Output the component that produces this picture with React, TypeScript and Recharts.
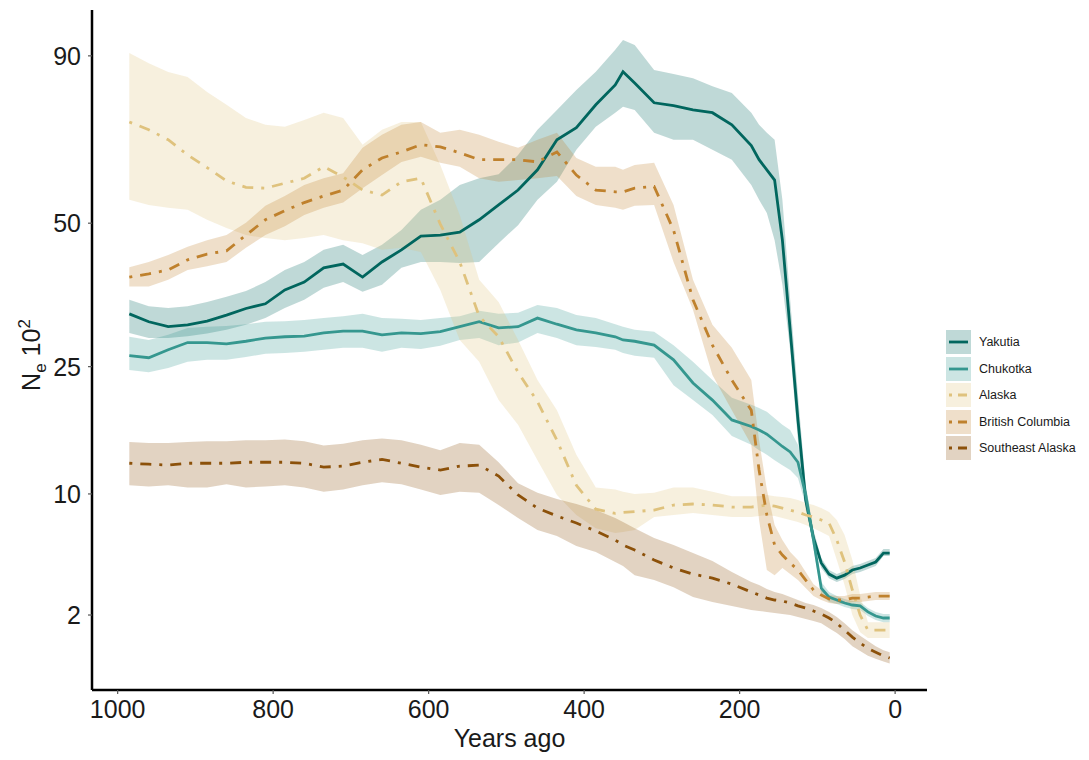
import React from "react";
import { ComposedChart, Area, Line, XAxis, YAxis } from "recharts";

// years before present (x axis runs backwards)
const years = [
  985, 960, 935, 910, 885, 860, 835, 810, 785, 760,
  735, 710, 685, 660, 635, 610, 585, 560, 535, 510,
  485, 460, 435, 410, 385, 360, 350, 335, 310, 285,
  260, 235, 210, 185, 175, 165, 155, 145, 135, 125,
  115, 105, 95, 85, 75, 65, 55, 45, 35, 25,
  15, 7,
];

// Ne x 10^2, median and ribbon bounds
const yakutia = [
  33.2, 31.9, 31.1, 31.4, 32.0, 33.0, 34.1, 34.9, 37.3, 38.7,
  41.3, 42.0, 39.6, 42.4, 44.7, 47.4, 47.6, 48.2, 50.7, 53.8,
  57.0, 61.5, 68.5, 71.4, 77.1, 82.2, 85.7, 82.7, 77.6, 76.9,
  75.8, 75.1, 72.1, 67.1, 63.8, 61.5, 59.2, 46.6, 30.6, 17.9,
  9.45, 6.38, 4.69, 4.02, 3.79, 3.96, 4.26, 4.38, 4.56, 4.75,
  5.33, 5.33,
];
const yakutiaLow = [
  30.1, 29.3, 29.3, 29.6, 30.0, 30.6, 31.4, 32.5, 34.2, 35.6,
  37.7, 38.7, 37.0, 38.2, 41.3, 42.4, 42.4, 42.2, 42.4, 46.0,
  49.6, 54.9, 58.8, 66.1, 71.6, 75.1, 76.6, 75.8, 70.2, 68.5,
  68.5, 66.1, 63.8, 58.1, 54.9, 52.1, 46.6, 38.2, 27.5, 15.5,
  8.58, 6.02, 4.38, 3.79, 3.57, 3.74, 4.02, 4.14, 4.32, 4.5,
  5.14, 5.14,
];
const yakutiaHigh = [
  35.6, 34.5, 34.2, 34.5, 35.2, 36.1, 37.1, 38.7, 40.9, 42.4,
  44.7, 45.7, 43.7, 45.7, 48.6, 52.8, 54.9, 58.1, 59.6, 60.5,
  64.9, 70.9, 75.8, 80.9, 85.7, 91.7, 94.4, 93.0, 86.2, 85.1,
  84.0, 81.9, 80.1, 75.1, 72.1, 70.2, 68.5, 54.9, 35.6, 21.1,
  10.8, 6.97, 5.01, 4.26, 4.02, 4.2, 4.5, 4.62, 4.81, 5.01,
  5.6, 5.6,
];

const chukotka = [
  26.6, 26.3, 27.5, 28.6, 28.6, 28.4, 28.8, 29.3, 29.5, 29.6,
  30.1, 30.4, 30.4, 29.8, 30.1, 30.0, 30.3, 31.1, 31.9, 30.9,
  31.1, 32.5, 31.5, 30.6, 30.1, 29.5, 29.0, 28.8, 28.2, 26.0,
  22.7, 20.4, 17.9, 17.1, 16.7, 16.2, 15.5, 14.8, 14.2, 13.1,
  9.9, 6.23, 3.25, 2.8, 2.66, 2.52, 2.43, 2.39, 2.13, 1.96,
  1.88, 1.88,
];
const chukotkaLow = [
  24.5, 24.2, 24.8, 25.7, 26.0, 26.0, 26.4, 26.9, 27.0, 27.2,
  27.5, 27.8, 27.8, 27.2, 27.8, 27.6, 28.1, 29.0, 29.3, 28.2,
  28.6, 30.1, 29.3, 28.2, 27.9, 27.5, 27.0, 26.6, 26.3, 22.4,
  20.4, 18.5, 16.0, 15.0, 14.4, 13.9, 13.3, 12.8, 12.3, 11.5,
  9.0, 5.67, 2.95, 2.57, 2.48, 2.34, 2.25, 2.21, 1.96, 1.8,
  1.72, 1.72,
];
const chukotkaHigh = [
  29.5, 29.0, 29.8, 30.9, 31.1, 31.2, 31.5, 31.9, 32.0, 32.2,
  32.5, 32.8, 33.2, 32.5, 32.4, 32.2, 32.5, 32.8, 33.7, 33.2,
  33.4, 34.7, 34.2, 33.0, 32.5, 31.5, 31.1, 30.6, 30.3, 28.2,
  25.7, 23.1, 20.7, 19.8, 19.4, 18.9, 18.1, 17.3, 16.7, 15.0,
  10.8, 6.82, 3.57, 3.05, 2.85, 2.71, 2.61, 2.57, 2.3, 2.13,
  2.04, 2.04,
];

const alaska = [
  72.8, 70.9, 68.5, 64.9, 62.0, 59.0, 57.6, 57.4, 58.5, 59.6,
  62.2, 59.9, 57.0, 55.9, 58.8, 59.6, 49.8, 42.4, 32.8, 29.5,
  24.2, 20.2, 15.5, 10.8, 8.66, 8.3, 8.38, 8.45, 8.58, 9.01,
  9.1, 9.01, 8.84, 8.84, 8.92, 9.01, 8.92, 8.75, 8.58, 8.41,
  8.17, 8.0, 7.76, 7.52, 6.23, 4.75, 3.15, 2.0, 1.43, 1.43,
  1.43, 1.43,
];
const alaskaLow = [
  54.9, 53.8, 53.2, 52.8, 50.7, 49.0, 47.6, 47.0, 46.6, 47.0,
  47.6, 46.6, 46.0, 44.7, 45.1, 44.3, 37.3, 29.0, 25.7, 20.4,
  17.3, 13.3, 9.9, 8.17, 7.12, 6.75, 6.82, 6.97, 8.0, 8.17,
  8.33, 8.17, 8.0, 8.0, 8.09, 8.17, 8.09, 7.93, 7.76, 7.6,
  7.36, 7.12, 6.82, 6.53, 4.88, 3.41, 2.0, 1.36, 1.17, 1.17,
  1.17, 1.17,
];
const alaskaHigh = [
  90.8, 88.0, 85.6, 84.3, 80.4, 77.1, 73.8, 72.1, 71.6, 73.3,
  75.1, 73.8, 67.3, 70.9, 72.8, 72.8, 62.6, 51.7, 39.1, 35.2,
  29.0, 23.1, 19.1, 13.9, 10.6, 10.4, 10.2, 10.0, 10.1, 10.6,
  10.6, 10.2, 9.8, 9.8, 9.8, 9.9, 9.8, 9.72, 9.63, 9.45,
  9.19, 9.01, 8.75, 8.41, 7.76, 6.6, 4.88, 2.9, 1.72, 1.72,
  1.72, 1.72,
];

const britishColumbia = [
  39.6, 40.2, 40.9, 42.8, 43.9, 44.5, 47.6, 50.7, 52.6, 54.3,
  55.7, 57.0, 61.5, 64.2, 65.6, 67.3, 66.8, 65.4, 63.8, 63.8,
  63.8, 63.3, 65.6, 60.3, 57.0, 56.6, 56.6, 57.4, 57.8, 48.6,
  35.6, 28.2, 23.1, 19.1, 12.3, 8.17, 5.88, 5.2, 4.69, 4.26,
  3.68, 3.15, 2.9, 2.71, 2.66, 2.66, 2.75, 2.75, 2.8, 2.85,
  2.85, 2.85,
];
const britishColumbiaLow = [
  37.9, 37.9, 39.1, 40.9, 41.6, 42.4, 45.1, 47.6, 49.4, 51.7,
  53.2, 54.3, 57.4, 60.3, 63.3, 64.5, 63.1, 62.2, 59.6, 58.8,
  59.2, 59.6, 60.1, 55.7, 53.8, 53.2, 52.8, 53.6, 53.8, 42.4,
  33.9, 23.8, 19.1, 15.0, 7.76, 4.26, 3.96, 4.38, 4.02, 3.68,
  3.25, 2.85, 2.66, 2.52, 2.48, 2.48, 2.57, 2.57, 2.61, 2.66,
  2.66, 2.66,
];
const britishColumbiaHigh = [
  41.4, 42.4, 43.7, 45.3, 46.6, 47.6, 50.1, 53.6, 55.7, 58.1,
  59.6, 60.7, 66.6, 69.7, 72.1, 72.8, 70.2, 70.9, 69.7, 68.0,
  66.6, 68.5, 70.2, 64.2, 62.2, 62.2, 61.5, 62.6, 63.1, 53.8,
  39.1, 31.4, 27.8, 23.1, 15.5, 10.4, 7.36, 6.23, 5.4, 4.88,
  4.14, 3.46, 3.15, 2.9, 2.85, 2.85, 2.95, 2.95, 3.0, 3.05,
  3.05, 3.05,
];

const southeastAlaska = [
  13.0, 12.9, 12.8, 13.0, 13.0, 13.0, 13.1, 13.1, 13.1, 13.0,
  12.6, 12.7, 13.1, 13.4, 13.0, 12.6, 12.3, 12.7, 12.8, 11.7,
  9.9, 8.75, 8.09, 7.52, 6.9, 6.23, 5.88, 5.53, 4.88, 4.38,
  4.02, 3.79, 3.46, 3.05, 2.9, 2.75, 2.66, 2.61, 2.52, 2.39,
  2.3, 2.17, 2.04, 1.88, 1.68, 1.43, 1.2, 1.02, 0.87, 0.77,
  0.68, 0.63,
];
const southeastAlaskaLow = [
  10.8, 10.7, 10.8, 10.6, 10.6, 10.9, 10.6, 10.7, 10.8, 10.6,
  10.2, 10.4, 10.8, 11.1, 10.9, 10.4, 9.9, 10.2, 10.1, 9.01,
  7.93, 6.97, 6.53, 5.81, 5.4, 4.75, 4.5, 3.96, 3.68, 3.3,
  2.8, 2.57, 2.39, 2.21, 2.17, 2.13, 2.08, 2.04, 2.0, 1.92,
  1.84, 1.76, 1.68, 1.5, 1.33, 1.14, 0.93, 0.8, 0.68, 0.61,
  0.55, 0.51,
];
const southeastAlaskaHigh = [
  15.3, 15.2, 15.2, 15.3, 15.4, 15.4, 15.5, 15.5, 15.6, 15.4,
  14.9, 15.1, 15.5, 15.7, 15.5, 15.0, 14.4, 15.2, 15.0, 13.1,
  11.0, 10.1, 9.54, 9.1, 8.58, 7.93, 7.6, 7.12, 6.38, 5.88,
  5.33, 4.81, 4.14, 3.57, 3.41, 3.2, 3.05, 2.95, 2.8, 2.66,
  2.52, 2.43, 2.3, 2.13, 1.92, 1.68, 1.43, 1.24, 1.08, 0.93,
  0.82, 0.77,
];

const xTicks = [1000, 800, 600, 400, 200, 0];
const yTicks = [2, 10, 25, 50, 90];

const series = [
  { key: "yak", name: "Yakutia", color: "#01665e", mid: yakutia, low: yakutiaLow, high: yakutiaHigh, dash: undefined },
  { key: "chu", name: "Chukotka", color: "#35978f", mid: chukotka, low: chukotkaLow, high: chukotkaHigh, dash: undefined },
  { key: "ala", name: "Alaska", color: "#dfc27d", mid: alaska, low: alaskaLow, high: alaskaHigh, dash: "3 8 11 8" },
  { key: "bc", name: "British Columbia", color: "#bf812d", mid: britishColumbia, low: britishColumbiaLow, high: britishColumbiaHigh, dash: "3 8 11 8" },
  { key: "sea", name: "Southeast Alaska", color: "#8c510a", mid: southeastAlaska, low: southeastAlaskaLow, high: southeastAlaskaHigh, dash: "3 8 11 8" },
];

const data = years.map((year, i) => {
  const row: Record<string, any> = { year };
  series.forEach((s) => {
    row[s.key] = s.mid[i];
    row[s.key + "Band"] = [s.low[i], s.high[i]];
  });
  return row;
});

const FONT = "'Liberation Sans', Arial, sans-serif";

function LegendKey({ color, dash }: { color: string; dash?: string }) {
  return (
    <svg width={25} height={24} style={{ display: "block" }}>
      <rect x={0} y={0} width={25} height={24} fill={color} fillOpacity={0.25} />
      <line
        x1={3}
        x2={22}
        y1={12}
        y2={12}
        stroke={color}
        strokeWidth={2.8}
        strokeDasharray={dash ? "3 6 9 6" : undefined}
      />
    </svg>
  );
}

export default function App() {
  return (
    <div style={{ position: "relative", width: 1081, height: 752, fontFamily: FONT }}>
      <ComposedChart
        width={1081}
        height={752}
        data={data}
        margin={{ top: 2, right: 162, bottom: 0, left: 0 }}
      >
        <XAxis
          dataKey="year"
          type="number"
          domain={[-41, 1033]}
          reversed
          allowDataOverflow
          ticks={xTicks}
          height={70}
          tickSize={4}
          tickMargin={6}
          axisLine={{ stroke: "#000", strokeWidth: 2.5 }}
          tickLine={{ stroke: "#555", strokeWidth: 1.2 }}
          tick={{ fill: "#1a1a1a", fontSize: 25, fontFamily: FONT }}
          label={{ value: "Years ago", position: "insideBottom", offset: 13, fill: "#1a1a1a", fontSize: 25, fontFamily: FONT }}
        />
        <YAxis
          type="number"
          scale="sqrt"
          domain={[0.11, 103]}
          allowDataOverflow
          ticks={yTicks}
          width={84}
          tickSize={4}
          tickMargin={7}
          axisLine={{ stroke: "#000", strokeWidth: 2.5 }}
          tickLine={{ stroke: "#555", strokeWidth: 1.2 }}
          tick={{ fill: "#1a1a1a", fontSize: 25, fontFamily: FONT }}
        />
        {series.map((s) => (
          <Area
            key={s.key + "Band"}
            type="linear"
            dataKey={s.key + "Band"}
            stroke="none"
            fill={s.color}
            fillOpacity={0.25}
            isAnimationActive={false}
            activeDot={false}
          />
        ))}
        {series.map((s) => (
          <Line
            key={s.key}
            type="linear"
            dataKey={s.key}
            stroke={s.color}
            strokeWidth={2.8}
            strokeDasharray={s.dash}
            dot={false}
            activeDot={false}
            isAnimationActive={false}
          />
        ))}
      </ComposedChart>

      <svg
        width={60}
        height={752}
        style={{ position: "absolute", left: 0, top: 0, pointerEvents: "none" }}
      >
        <text
          transform="translate(32,347) rotate(-90)"
          textAnchor="middle"
          fontSize={25}
          fill="#1a1a1a"
          fontFamily={FONT}
        >
          N
          <tspan fontSize={17} dy={6}>e</tspan>
          <tspan dy={-6}> 10</tspan>
          <tspan fontSize={17} dy={-10}>2</tspan>
        </text>
      </svg>

      <div style={{ position: "absolute", left: 938, top: 322 }}>
        {series.map((s) => (
          <div key={s.key} style={{ display: "flex", alignItems: "center", height: 24, marginBottom: 2.6 }}>
            <LegendKey color={s.color} dash={s.dash} />
            <span style={{ marginLeft: 8, fontSize: 12.5, color: "#1a1a1a" }}>{s.name}</span>
          </div>
        ))}
      </div>
    </div>
  );
}
